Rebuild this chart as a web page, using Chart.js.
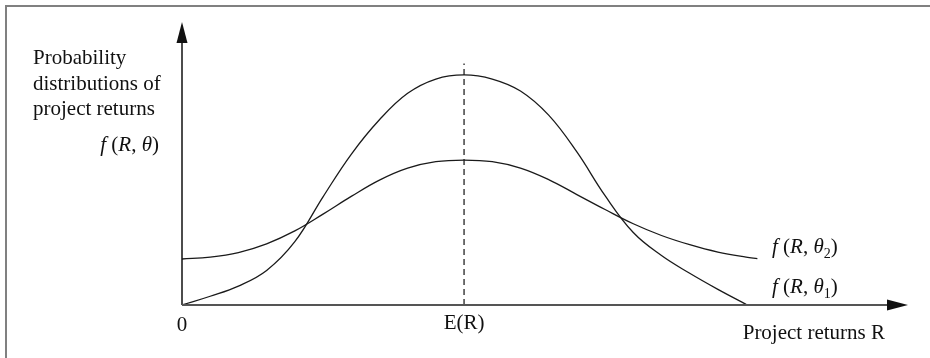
<!DOCTYPE html>
<html>
<head>
<meta charset="utf-8">
<script src="https://cdn.jsdelivr.net/npm/chart.js@4.4.1/dist/chart.umd.min.js"></script>
<style>
  html, body { margin: 0; padding: 0; background: #fff; }
  canvas { display: block; }
</style>
</head>
<body>
<canvas id="chart" width="930" height="358"></canvas>
<script>
// project returns R (E(R) = 5)
const returns = [0, 0.5, 1, 1.5, 2, 2.5, 3, 3.5, 4, 4.5, 5, 5.5, 6, 6.5, 7, 7.5, 8, 8.5, 9, 9.5, 10, 10.2];
// f(R, θ1): concentrated distribution
const theta1 = [0, 3.8, 8.2, 15, 27.5, 47, 65.5, 80.5, 92, 98.2, 100, 98.2, 93, 82.5, 66.5, 47.5, 31.5, 21.5, 13.8, 6.8, 0.3, null];
// f(R, θ2): dispersed distribution
const theta2 = [20, 20.8, 22.8, 26.6, 32.2, 39.5, 47.2, 54.3, 59.5, 62.3, 63, 62.3, 59.5, 54.5, 48, 41.5, 35.3, 30.2, 26.2, 23, 20.8, 20.2];
const meanReturn = 5;
const meanLineTop = 105;

const SERIF = '"Liberation Serif", "Times New Roman", serif';
const FONT_SIZE = 21;

function drawRich(ctx, parts, x, y, align) {
  const fontFor = p => (p.it ? 'italic ' : '') + (p.sub ? 14 : FONT_SIZE) + 'px ' + SERIF;
  let total = 0;
  parts.forEach(p => { ctx.font = fontFor(p); total += ctx.measureText(p.t).width; });
  let cx = align === 'right' ? x - total : align === 'center' ? x - total / 2 : x;
  ctx.textAlign = 'left';
  ctx.textBaseline = 'alphabetic';
  parts.forEach(p => {
    ctx.font = fontFor(p);
    ctx.fillText(p.t, cx, p.sub ? y + 5 : y);
    cx += ctx.measureText(p.t).width;
  });
}

function fLabel(sub) {
  const parts = [{ t: 'f', it: true }, { t: ' (' }, { t: 'R', it: true }, { t: ', ' }, { t: '\u03B8', it: true }];
  if (sub) parts.push({ t: sub, sub: true });
  parts.push({ t: ')' });
  return parts;
}

const decorations = {
  id: 'decorations',
  afterDraw(chart) {
    const ctx = chart.ctx;
    const area = chart.chartArea;
    const xs = chart.scales.x;
    const ys = chart.scales.y;
    const x0 = xs.getPixelForValue(0);
    const y0 = ys.getPixelForValue(0);
    ctx.save();

    // frame
    ctx.strokeStyle = '#808080';
    ctx.lineWidth = 2;
    ctx.beginPath();
    ctx.moveTo(6, 358);
    ctx.lineTo(6, 6);
    ctx.lineTo(930, 6);
    ctx.stroke();

    // y axis with arrow
    ctx.strokeStyle = '#111';
    ctx.fillStyle = '#111';
    ctx.lineWidth = 1.5;
    ctx.beginPath();
    ctx.moveTo(x0, y0);
    ctx.lineTo(x0, area.top + 18);
    ctx.stroke();
    ctx.beginPath();
    ctx.moveTo(x0, area.top);
    ctx.lineTo(x0 - 5.5, area.top + 21);
    ctx.lineTo(x0 + 5.5, area.top + 21);
    ctx.closePath();
    ctx.fill();

    // x axis with arrow
    ctx.strokeStyle = '#555';
    ctx.lineWidth = 1.8;
    ctx.beginPath();
    ctx.moveTo(x0, y0);
    ctx.lineTo(area.right - 18, y0);
    ctx.stroke();
    ctx.beginPath();
    ctx.moveTo(area.right, y0);
    ctx.lineTo(area.right - 21, y0 - 5.5);
    ctx.lineTo(area.right - 21, y0 + 5.5);
    ctx.closePath();
    ctx.fill();

    // texts
    ctx.fillStyle = '#111';
    ctx.font = FONT_SIZE + 'px ' + SERIF;
    ctx.textAlign = 'left';
    ctx.textBaseline = 'alphabetic';
    ctx.fillText('Probability', 33, 64);
    ctx.fillText('distributions of', 33, 90);
    ctx.fillText('project returns', 33, 115);
    drawRich(ctx, fLabel(''), 159, 151, 'right');

    ctx.font = FONT_SIZE + 'px ' + SERIF;
    ctx.textAlign = 'center';
    ctx.fillText('0', x0, 331);
    ctx.fillText('E(R)', xs.getPixelForValue(meanReturn), 329);
    ctx.textAlign = 'right';
    ctx.fillText('Project returns R', 885, 339);

    drawRich(ctx, fLabel('2'), 772, 253, 'left');
    drawRich(ctx, fLabel('1'), 772, 293, 'left');
    ctx.restore();
  }
};

const lineStyle = {
  borderColor: '#1a1a1a',
  borderWidth: 1.3,
  pointRadius: 0,
  fill: false,
  tension: 0.4
};

new Chart(document.getElementById('chart'), {
  type: 'line',
  data: {
    datasets: [
      { label: 'f(R, θ1)', data: returns.map((r, i) => ({ x: r, y: theta1[i] })), ...lineStyle },
      { label: 'f(R, θ2)', data: returns.map((r, i) => ({ x: r, y: theta2[i] })), ...lineStyle },
      {
        label: 'E(R)',
        data: [{ x: meanReturn, y: 0 }, { x: meanReturn, y: meanLineTop }],
        borderColor: '#111',
        borderWidth: 1.2,
        borderDash: [6, 4],
        pointRadius: 0
      }
    ]
  },
  options: {
    responsive: false,
    animation: false,
    layout: { padding: { left: 182, right: 22, top: 22, bottom: 53 } },
    plugins: { legend: { display: false }, tooltip: { enabled: false } },
    scales: {
      x: { type: 'linear', min: 0, max: 12.87, display: false },
      y: { min: 0, max: 123, display: false }
    }
  },
  plugins: [decorations]
});
</script>
</body>
</html>
